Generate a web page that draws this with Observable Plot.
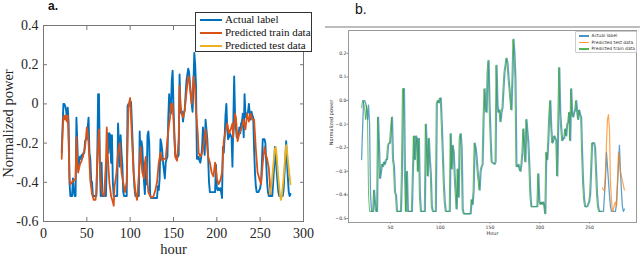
<!DOCTYPE html>
<html><head><meta charset="utf-8">
<script src="https://cdn.jsdelivr.net/npm/d3@7"></script>
<script src="https://cdn.jsdelivr.net/npm/@observablehq/plot@0.6"></script>
<style>
html,body{margin:0;padding:0;background:#fff;}
#root{position:relative;width:640px;height:257px;overflow:hidden;background:#fff;}
</style></head><body><div id="root"></div>
<script>
// ---------- DATA ----------
const panelLabels = ["a.", "b."];
const legendLabelsA = ["Actual label", "Predicted train data", "Predicted test data"];
const legendLabelsB = ["Actual label", "Predicted test data", "Predicted train data"];
const xTicksA = [0, 50, 100, 150, 200, 250, 300];
const yTicksA = [-0.6, -0.4, -0.2, 0, 0.2, 0.4];
const yTickLabelsA = ["-0.6", "-0.4", "-0.2", "0", "0.2", "0.4"];
const xTicksB = [50, 100, 150, 200, 250];
const yTicksB = [-0.5, -0.4, -0.3, -0.2, -0.1, 0, 0.1, 0.2];
const yTickLabelsB = ["\u22120.5", "\u22120.4", "\u22120.3", "\u22120.2", "\u22120.1", "0.0", "0.1", "0.2"];
const xLabelA = "hour", xLabelB = "Hour", yLabel = "Normalized power";

// actual label [hour, normalized power]
const actual = [[21,-0.25],[22,-0.12],[23,0.0],[24,0.0],[25,-0.01],[26,-0.03],[27,-0.08],[28,-0.02],[29,-0.10],[30,-0.40],[31,-0.47],[33,-0.47],[34,-0.38],[35,-0.44],[36,-0.47],[37,-0.47],[38,-0.07],[39,-0.20],[40,-0.33],[41,-0.30],[42,-0.27],[43,-0.28],[44,-0.26],[45,-0.27],[46,-0.25],[47,-0.25],[48,-0.19],[49,-0.18],[50,-0.18],[51,-0.12],[52,-0.07],[53,-0.25],[54,-0.28],[55,-0.39],[56,-0.40],[57,-0.47],[61,-0.47],[62,-0.30],[63,0.05],[64,0.05],[65,-0.30],[66,-0.47],[67,-0.30],[68,-0.47],[72,-0.47],[73,-0.30],[74,-0.15],[75,-0.25],[76,-0.15],[77,-0.16],[78,-0.30],[79,-0.16],[80,-0.40],[81,-0.47],[85,-0.47],[86,-0.10],[87,-0.20],[88,-0.32],[89,-0.16],[90,-0.25],[91,-0.31],[92,-0.45],[93,-0.47],[96,-0.47],[97,-0.01],[98,0.0],[99,-0.01],[100,0.01],[101,0.01],[102,-0.10],[103,-0.22],[104,-0.35],[105,-0.43],[106,-0.47],[110,-0.47],[111,-0.14],[112,-0.29],[113,-0.19],[114,-0.22],[115,-0.32],[116,-0.40],[117,-0.46],[118,-0.29],[119,-0.41],[120,-0.16],[121,-0.14],[122,-0.20],[123,-0.46],[124,-0.48],[131,-0.48],[132,-0.42],[133,-0.44],[134,-0.38],[135,-0.18],[136,-0.20],[137,-0.24],[138,-0.30],[139,-0.34],[140,-0.38],[141,-0.30],[142,-0.28],[143,-0.27],[144,-0.07],[145,0.05],[146,-0.04],[147,-0.05],[148,0.12],[149,0.17],[150,-0.02],[151,-0.15],[152,-0.26],[155,-0.27],[156,-0.26],[157,0.15],[158,-0.02],[159,-0.05],[160,-0.04],[161,-0.09],[162,-0.05],[163,-0.03],[164,0.05],[165,0.12],[166,0.15],[167,0.18],[168,0.16],[169,0.10],[170,0.05],[171,0.0],[172,-0.04],[173,0.10],[174,0.26],[175,0.20],[176,0.09],[177,-0.28],[178,-0.28],[179,-0.27],[180,-0.29],[181,-0.30],[182,-0.27],[183,-0.22],[184,-0.12],[185,-0.20],[186,-0.26],[187,-0.08],[188,-0.13],[189,-0.18],[190,-0.28],[191,-0.40],[192,-0.45],[198,-0.45],[199,-0.31],[200,-0.43],[201,-0.44],[202,-0.43],[203,-0.44],[204,-0.43],[205,-0.45],[206,-0.48],[207,-0.22],[208,-0.25],[209,-0.17],[210,-0.06],[211,0.0],[212,-0.12],[213,-0.18],[214,-0.17],[215,-0.15],[216,-0.16],[217,-0.17],[218,-0.32],[219,-0.10],[220,0.14],[221,-0.05],[222,-0.12],[223,-0.17],[224,-0.16],[225,-0.16],[226,-0.12],[227,-0.15],[228,-0.10],[229,-0.09],[230,-0.05],[231,-0.17],[232,0.05],[233,-0.06],[234,-0.07],[235,-0.05],[236,-0.04],[237,0.0],[238,-0.05],[239,-0.08],[240,-0.04],[241,-0.06],[242,-0.07],[243,-0.23],[244,-0.35],[245,-0.42],[246,-0.45],[248,-0.45],[249,-0.44],[250,-0.43],[251,-0.40],[252,-0.30],[253,-0.18],[255,-0.18],[256,-0.20],[257,-0.30],[258,-0.40],[259,-0.45],[260,-0.47],[264,-0.47],[265,-0.40],[266,-0.33],[267,-0.22],[268,-0.28],[269,-0.34],[270,-0.40],[271,-0.45],[272,-0.47],[276,-0.47],[277,-0.44],[278,-0.36],[279,-0.28],[280,-0.19],[281,-0.30],[282,-0.38],[283,-0.45],[284,-0.47],[285,-0.46]];

// panel a: predicted train data (MATLAB model)
const trainA = [[21,-0.28],[22,-0.15],[23,-0.07],[24,-0.06],[25,-0.08],[26,-0.06],[27,-0.09],[28,-0.06],[29,-0.20],[30,-0.38],[31,-0.41],[33,-0.40],[34,-0.39],[36,-0.39],[37,-0.38],[38,-0.17],[39,-0.30],[40,-0.35],[42,-0.31],[44,-0.29],[46,-0.26],[48,-0.22],[50,-0.12],[51,-0.15],[52,-0.20],[54,-0.39],[56,-0.46],[58,-0.49],[60,-0.49],[61,-0.45],[62,-0.29],[64,-0.13],[65,-0.30],[66,-0.40],[68,-0.46],[70,-0.47],[72,-0.30],[73,-0.12],[74,-0.25],[76,-0.40],[78,-0.47],[80,-0.50],[81,-0.52],[82,-0.42],[84,-0.36],[86,-0.25],[87,-0.22],[88,-0.20],[90,-0.35],[92,-0.40],[94,-0.45],[96,-0.40],[98,-0.01],[100,0.03],[102,-0.17],[104,-0.35],[106,-0.45],[108,-0.49],[110,-0.36],[112,-0.22],[113,-0.30],[114,-0.35],[116,-0.38],[117,-0.30],[118,-0.27],[119,-0.35],[121,-0.45],[123,-0.47],[125,-0.48],[127,-0.47],[129,-0.44],[131,-0.40],[133,-0.30],[135,-0.25],[137,-0.29],[139,-0.28],[141,-0.28],[143,-0.18],[145,-0.10],[146,-0.07],[147,0.0],[148,-0.03],[149,0.0],[150,-0.08],[152,-0.27],[154,-0.29],[156,-0.18],[157,0.09],[158,0.0],[159,-0.04],[161,-0.07],[163,-0.03],[165,0.06],[167,0.14],[168,0.13],[170,0.04],[171,0.0],[172,0.05],[173,0.14],[175,0.07],[176,-0.04],[178,-0.15],[179,-0.25],[181,-0.27],[183,-0.25],[185,-0.20],[187,-0.13],[189,-0.22],[190,-0.27],[192,-0.30],[194,-0.35],[196,-0.37],[198,-0.30],[200,-0.38],[202,-0.41],[204,-0.39],[206,-0.35],[208,-0.19],[210,-0.14],[212,-0.10],[214,-0.15],[216,-0.13],[218,-0.10],[219,-0.17],[221,-0.05],[222,-0.07],[224,-0.19],[226,-0.15],[229,-0.12],[231,-0.08],[233,-0.13],[235,-0.05],[237,-0.09],[239,-0.05],[241,-0.08],[243,-0.08],[245,-0.23],[247,-0.35],[249,-0.38],[251,-0.41],[253,-0.30],[255,-0.22],[256,-0.25],[258,-0.28],[260,-0.33],[262,-0.46]];

// panel a: predicted test data
const testA = [[261,-0.46],[263,-0.42],[265,-0.32],[267,-0.23],[268,-0.22],[269,-0.26],[271,-0.38],[273,-0.47],[274,-0.49],[275,-0.47],[277,-0.38],[279,-0.26],[280,-0.21],[281,-0.24],[283,-0.33],[285,-0.41]];

// panel b: predicted train data
const trainB = [[21,-0.03],[22,0.0],[23,-0.01],[24,-0.03],[25,-0.08],[26,-0.02],[27,-0.10],[28,-0.40],[29,-0.47],[32,-0.47],[33,-0.38],[34,-0.44],[35,-0.47],[36,-0.47],[37,-0.07],[38,-0.20],[39,-0.33],[40,-0.30],[41,-0.27],[42,-0.28],[43,-0.26],[44,-0.27],[45,-0.25],[46,-0.25],[47,-0.19],[48,-0.18],[49,-0.18],[50,-0.12],[51,-0.07],[52,-0.25],[53,-0.28],[54,-0.39],[55,-0.40],[56,-0.47],[60,-0.47],[61,-0.30],[62,0.05],[63,0.05],[64,-0.30],[65,-0.47],[66,-0.30],[67,-0.47],[71,-0.47],[72,-0.30],[73,-0.15],[74,-0.25],[75,-0.15],[76,-0.16],[77,-0.30],[78,-0.16],[79,-0.40],[80,-0.47],[84,-0.47],[85,-0.10],[86,-0.20],[87,-0.32],[88,-0.16],[89,-0.25],[90,-0.31],[91,-0.45],[92,-0.47],[95,-0.47],[96,-0.01],[97,0.0],[98,-0.01],[99,0.01],[100,0.01],[101,-0.10],[102,-0.22],[103,-0.35],[104,-0.43],[105,-0.47],[109,-0.47],[110,-0.14],[111,-0.29],[112,-0.19],[113,-0.22],[114,-0.32],[115,-0.40],[116,-0.46],[117,-0.29],[118,-0.41],[119,-0.16],[120,-0.14],[121,-0.20],[122,-0.46],[123,-0.48],[130,-0.48],[131,-0.42],[132,-0.44],[133,-0.38],[134,-0.18],[135,-0.20],[136,-0.24],[137,-0.30],[138,-0.34],[139,-0.38],[140,-0.30],[141,-0.28],[142,-0.27],[143,-0.07],[144,0.05],[145,-0.04],[146,-0.05],[147,0.12],[148,0.17],[149,-0.02],[150,-0.15],[151,-0.26],[154,-0.27],[155,-0.26],[156,0.15],[157,-0.02],[158,-0.05],[159,-0.04],[160,-0.09],[161,-0.05],[162,-0.03],[163,0.05],[164,0.12],[165,0.15],[166,0.18],[167,0.16],[168,0.10],[169,0.05],[170,0.0],[171,-0.04],[172,0.10],[173,0.26],[174,0.20],[175,0.09],[176,-0.28],[177,-0.28],[178,-0.27],[179,-0.29],[180,-0.30],[181,-0.27],[182,-0.22],[183,-0.12],[184,-0.20],[185,-0.26],[186,-0.08],[187,-0.13],[188,-0.18],[189,-0.28],[190,-0.40],[191,-0.45],[197,-0.45],[198,-0.31],[199,-0.43],[200,-0.44],[201,-0.43],[202,-0.44],[203,-0.43],[204,-0.45],[205,-0.48],[206,-0.22],[207,-0.25],[208,-0.17],[209,-0.06],[210,0.0],[211,-0.12],[212,-0.18],[213,-0.17],[214,-0.15],[215,-0.16],[216,-0.17],[217,-0.32],[218,-0.10],[219,0.14],[220,-0.05],[221,-0.12],[222,-0.17],[223,-0.16],[224,-0.16],[225,-0.12],[226,-0.15],[227,-0.10],[228,-0.09],[229,-0.05],[230,-0.17],[231,0.05],[232,-0.06],[233,-0.07],[234,-0.05],[235,-0.04],[236,0.0],[237,-0.05],[238,-0.08],[239,-0.04],[240,-0.06],[241,-0.07],[242,-0.23],[243,-0.35],[244,-0.42],[245,-0.45],[247,-0.45],[248,-0.44],[249,-0.43],[250,-0.40],[251,-0.30],[252,-0.18],[254,-0.18],[255,-0.20],[256,-0.30],[257,-0.40],[258,-0.45],[259,-0.47],[262,-0.47]];

// panel b: predicted test data
const testB = [[263,-0.37],[264,-0.38],[265,-0.38],[266,-0.30],[267,-0.18],[268,-0.08],[269,-0.06],[270,-0.12],[271,-0.35],[272,-0.42],[273,-0.47],[274,-0.46],[275,-0.44],[276,-0.43],[277,-0.45],[278,-0.35],[279,-0.22],[280,-0.25],[281,-0.30],[282,-0.32],[283,-0.34],[284,-0.36],[285,-0.38]];

const colorsA = ["#0072BD", "#D95319", "#EDB120"];
const colorsB = ["#1f77b4", "#ff7f0e", "#2ca02c"];

// ---------- DRAW ----------
const root = document.getElementById("root");
const serif = "'Liberation Serif','Times New Roman',serif";
const sans = "'DejaVu Sans',sans-serif";
function put(el, left, top) {
  el.style.position = "absolute"; el.style.left = left + "px"; el.style.top = top + "px";
  root.appendChild(el); return el;
}
const lineOpts = (color, w, op) => ({x: d => d[0], y: d => d[1], stroke: color, strokeWidth: w, strokeOpacity: op, strokeLinejoin: "round"});

// Panel a (MATLAB style)
const fmtA = d => yTickLabelsA[yTicksA.indexOf(d)];
const plotA = Plot.plot({
  width: 320, height: 257,
  marginLeft: 43, marginRight: 17, marginTop: 25, marginBottom: 36,
  style: {fontFamily: serif, fontSize: "14px", background: "transparent", color: "#262626"},
  x: {domain: [0, 300], label: null},
  y: {domain: [-0.6, 0.4], label: null},
  marks: [
    Plot.line(actual, lineOpts(colorsA[0], 1.9, 1)),
    Plot.line(trainA, lineOpts(colorsA[1], 1.8, 1)),
    Plot.line(testA, lineOpts(colorsA[2], 1.8, 1)),
    Plot.frame({stroke: "#777", strokeWidth: 1}),
    Plot.axisX(xTicksA, {anchor: "bottom", tickSize: 4, dy: -4, fill: "none", stroke: "#777", label: null}),
    Plot.axisX(xTicksA, {anchor: "top", tickSize: 4, dy: 4, fill: "none", stroke: "#777", label: null}),
    Plot.axisY(yTicksA, {anchor: "left", tickSize: 4, dx: 4, fill: "none", stroke: "#777", label: null}),
    Plot.axisY(yTicksA, {anchor: "right", tickSize: 4, dx: -4, fill: "none", stroke: "#777", label: null}),
    Plot.axisX(xTicksA, {anchor: "bottom", tickSize: 0, tickPadding: 7, fontSize: 14, fill: "#262626", label: null}),
    Plot.axisY(yTicksA, {anchor: "left", tickSize: 0, tickPadding: 5, fontSize: 14, fill: "#262626", tickFormat: fmtA, label: null}),
    Plot.text([xLabelA], {frameAnchor: "bottom", dy: 28, lineAnchor: "middle", textAnchor: "middle", fontSize: 14.5, fill: "#262626"}),
    Plot.text([yLabel], {frameAnchor: "left", dx: -35, rotate: -90, lineAnchor: "middle", textAnchor: "middle", fontSize: 14.5, fill: "#262626"})
  ]
});
put(plotA, 0, 0);

// Panel b (matplotlib style)
const fmtB = d => yTickLabelsB[yTicksB.indexOf(d)];
const plotB = Plot.plot({
  width: 320, height: 257,
  marginLeft: 28, marginRight: 4, marginTop: 30, marginBottom: 35,
  style: {fontFamily: sans, fontSize: "4.5px", background: "transparent", color: "#333"},
  x: {domain: [7.85, 297.15], label: null},
  y: {domain: [-0.517, 0.297], label: null},
  marks: [
    Plot.line(actual, lineOpts(colorsB[0], 1.3, 0.7)),
    Plot.line(testB, lineOpts(colorsB[1], 1.2, 0.7)),
    Plot.line(trainB, lineOpts(colorsB[2], 1.0, 0.7)),
    Plot.frame({stroke: "#999", strokeWidth: 1}),
    Plot.axisX(xTicksB, {anchor: "bottom", tickSize: 1.5, tickPadding: 1.5, fontSize: 4.6, stroke: "#888", fill: "#333", label: null}),
    Plot.axisY(yTicksB, {anchor: "left", tickSize: 1.5, tickPadding: 0.5, fontSize: 4.6, stroke: "#888", fill: "#333", tickFormat: fmtB, label: null}),
    Plot.text([xLabelB], {frameAnchor: "bottom", dy: 10.5, lineAnchor: "middle", textAnchor: "middle", fontSize: 5, fill: "#333"}),
    Plot.text([yLabel], {frameAnchor: "left", dx: -17.5, dy: -4, rotate: -90, lineAnchor: "middle", textAnchor: "middle", fontSize: 5, fill: "#333"})
  ]
});
put(plotB, 320, 0);

// figure border line above panel b
const rule = document.createElement("div");
rule.style.width = "315px"; rule.style.height = "1.5px"; rule.style.background = "#bdbdbd";
put(rule, 325, 26);

// panel letters
const la = document.createElement("div");
la.textContent = panelLabels[0];
Object.assign(la.style, {font: "bold 12px 'Liberation Sans',Arial,sans-serif", lineHeight: "12px", color: "#111"});
put(la, 48, 0);
const lb = document.createElement("div");
lb.textContent = panelLabels[1];
Object.assign(lb.style, {font: "14px 'Liberation Sans',Arial,sans-serif", lineHeight: "14px", color: "#111"});
put(lb, 355, 2);

// legends
function legend(labels, colors, o) {
  const box = document.createElement("div");
  Object.assign(box.style, {width: o.w + "px", height: o.h + "px", background: "#fff", border: o.border, borderRadius: o.radius + "px", boxSizing: "border-box"});
  put(box, o.left, o.top);
  labels.forEach((lab, i) => {
    const sw = document.createElement("div");
    Object.assign(sw.style, {position: "absolute", left: o.swX + "px", top: (o.rowY[i] - o.lw / 2) + "px", width: o.swW + "px", height: o.lw + "px", background: colors[i], opacity: o.op});
    box.appendChild(sw);
    const t = document.createElement("div");
    t.textContent = lab;
    Object.assign(t.style, {position: "absolute", left: o.tX + "px", top: (o.rowY[i] - o.fs * 0.6) + "px", font: o.fs + "px " + o.font, lineHeight: (o.fs * 1.2) + "px", color: o.color, whiteSpace: "nowrap"});
    box.appendChild(t);
  });
}
legend(legendLabelsA, colorsA, {left: 195, top: 12, w: 117, h: 40, border: "1px solid #333", radius: 0, swX: 4, swW: 22, lw: 2, op: 1, tX: 29, rowY: [7, 20, 33], fs: 11, font: serif, color: "#111"});
legend(legendLabelsB, colorsB, {left: 575, top: 31, w: 62, h: 22, border: "0.6px solid #ccc", radius: 1, swX: 2.5, swW: 10, lw: 1.2, op: 0.8, tX: 15.5, rowY: [4, 10.5, 17], fs: 4.4, font: sans, color: "#333"});
</script>
</body></html>
